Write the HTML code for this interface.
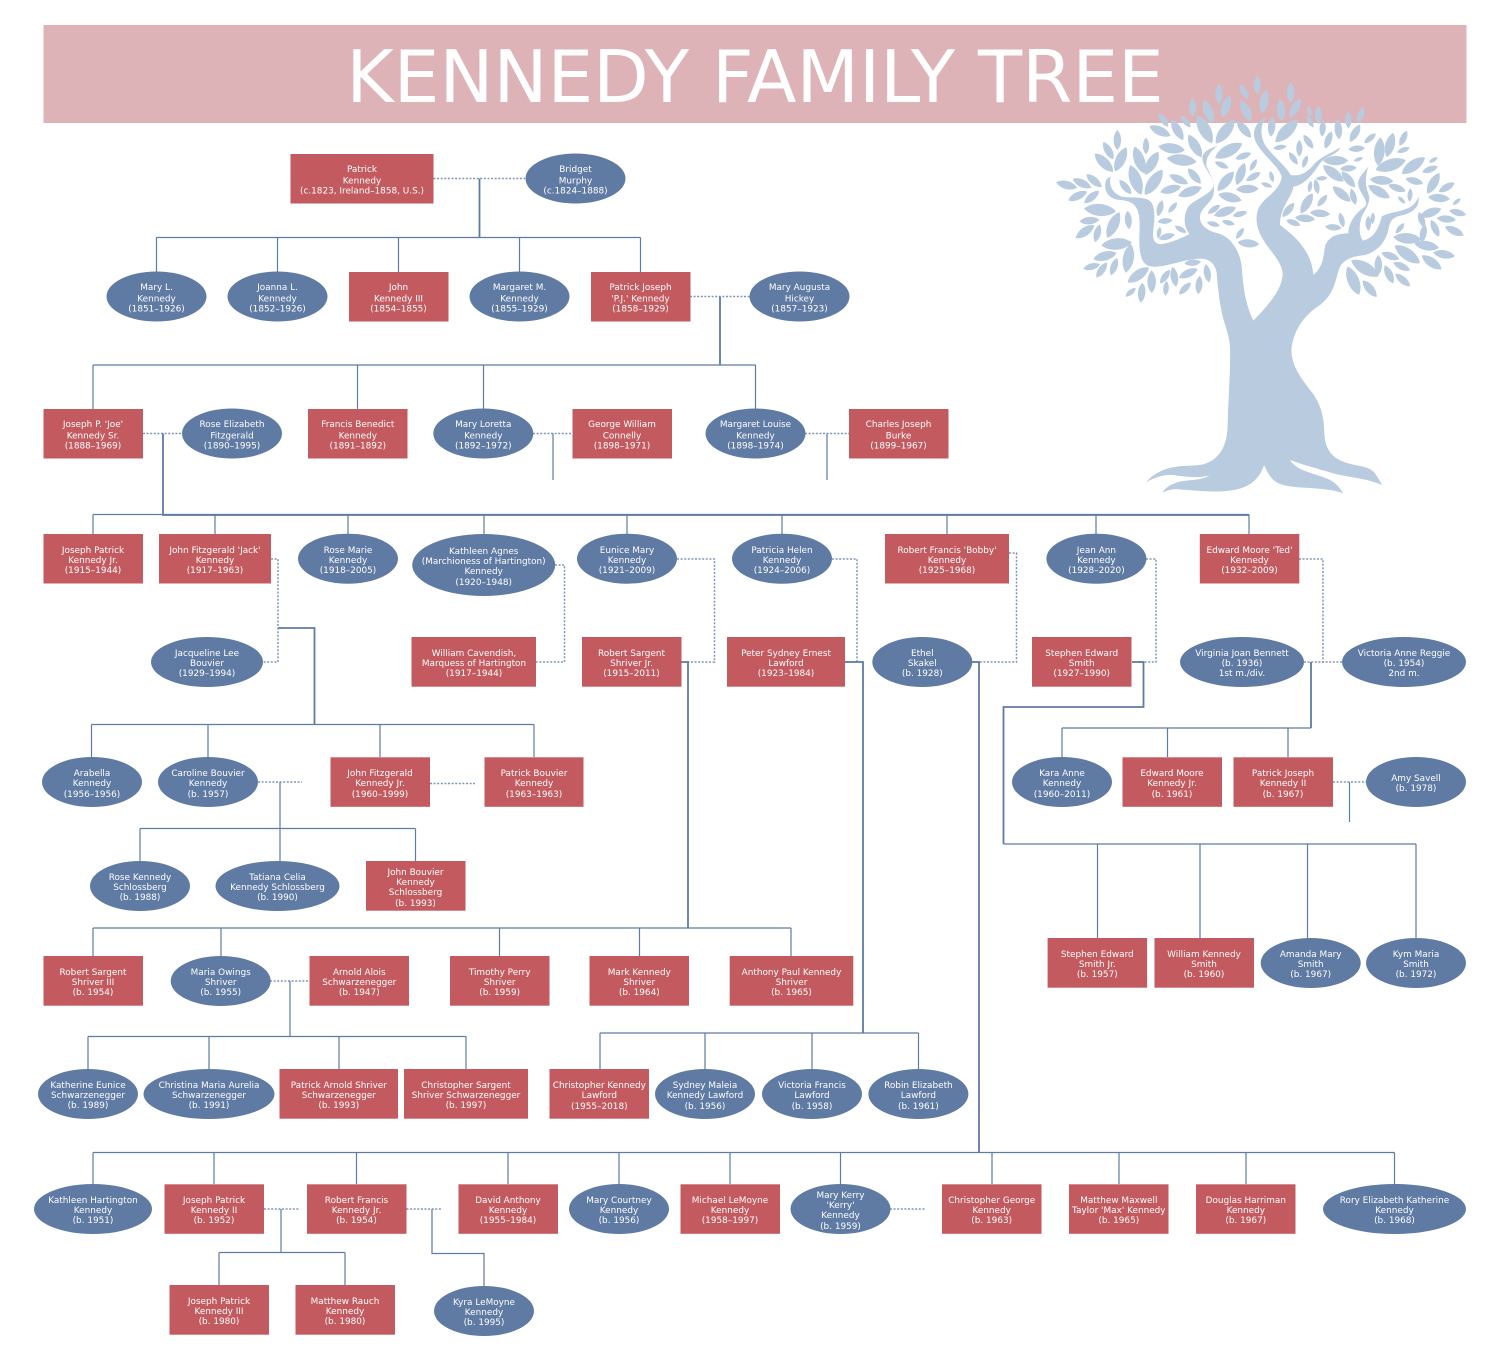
<!DOCTYPE html>
<html><head><meta charset="utf-8"><title>Kennedy Family Tree</title>
<style>
html,body{margin:0;padding:0;background:#fff}
svg{display:block}
text{font-family:"DejaVu Sans","Liberation Sans",sans-serif;font-size:8.9px;fill:#fff;text-anchor:middle}
.n rect{fill:#c25a60}
.n ellipse{fill:#5f7aa3}
.s{fill:none;stroke:#5f7aa3;stroke-width:1.2}
.b{fill:none;stroke:#5f7aa3;stroke-width:1.8}
.d{fill:none;stroke:#7f95b8;stroke-width:1.5;stroke-dasharray:2 1.6}
.t{fill:#b9cbdf}
</style></head><body>
<svg width="1500" height="1350" viewBox="0 0 1500 1350" xmlns="http://www.w3.org/2000/svg">
<rect x="0" y="0" width="1500" height="1350" fill="#fff"/>
<rect x="43.5" y="25" width="1423" height="98" fill="#deb3b8"/>
<text x="755" y="102" style="font-size:72.3px">KENNEDY FAMILY TREE</text>

<defs><path id="l" d="M0,-.5C.25,-.25 .25,.25 0,.5C-.25,.25 -.25,-.25 0,-.5Z"/></defs>
<g class="t" transform="translate(1040 70) scale(.33333)">
<path d="M318,1237C345,1205 385,1190 430,1188C465,1186 490,1188 515,1172C550,1150 563,1110 563,1060C565,980 572,900 570,830C568,790 550,760 542,710C535,670 533,640 530,610C528,585 510,565 478,566C430,568 380,592 340,590C305,590 298,555 298,510C298,490 300,470 298,445C295,410 280,392 240,390C205,388 190,360 197,335C199,327 205,323 212,320C206,345 215,368 245,380C275,385 315,378 332,395C345,410 345,440 340,480C336,510 345,525 368,522C395,517 425,505 448,492C432,470 428,440 445,410C460,390 510,375 520,350C525,325 490,295 487,265C487,245 510,235 532,228C510,245 495,265 500,290C510,315 528,335 520,375C510,405 478,415 480,445C482,470 510,485 535,490C570,500 600,540 605,590C610,650 615,700 640,752C680,710 728,660 728,610C725,570 680,535 662,495C645,460 645,425 665,400C685,375 720,360 725,320C715,285 660,250 645,210C635,180 650,155 680,140C660,165 660,195 675,225C695,255 735,285 752,315C775,320 800,310 820,285C840,260 875,250 900,232C895,255 860,255 840,280C820,310 795,345 760,350C755,385 720,410 720,465C760,495 815,540 820,615C850,590 850,560 855,530C865,495 900,490 925,490C925,460 945,430 975,410C990,390 950,365 955,335C960,315 975,305 985,290C975,320 975,345 985,370C995,395 975,420 965,440C958,465 955,490 968,512C1000,505 1015,480 1025,440C1055,420 1120,430 1135,380C1140,405 1125,425 1090,435C1060,440 1050,450 1045,480C1035,520 1010,545 975,555C945,558 915,565 900,590C885,630 885,670 840,705C800,730 765,770 755,830C750,880 780,920 810,960C845,1000 853,1050 853,1090C855,1130 870,1160 910,1175C945,1190 985,1185 1005,1210C1015,1225 1022,1235 1025,1245C985,1225 925,1222 880,1210C830,1195 790,1185 750,1170C770,1205 830,1210 870,1230C890,1240 900,1255 910,1270C860,1250 780,1258 730,1245C700,1238 685,1215 672,1185C660,1225 630,1250 590,1258C540,1270 470,1262 420,1258C400,1256 385,1260 367,1268C385,1240 420,1232 460,1230C480,1228 495,1224 508,1217C470,1225 430,1220 400,1215C370,1213 345,1222 318,1237Z"/>
<use href="#l" transform="translate(458 112)rotate(0)scale(55)"/><use href="#l" transform="translate(505 125)rotate(-20)scale(75)"/><use href="#l" transform="translate(558 110)rotate(20)scale(70)"/><use href="#l" transform="translate(537 72)scale(60)"/><use href="#l" transform="translate(612 65)rotate(-30)scale(50)"/><use href="#l" transform="translate(652 45)scale(55)"/><use href="#l" transform="translate(672 95)rotate(10)scale(70)"/><use href="#l" transform="translate(618 122)rotate(-25)scale(70)"/><use href="#l" transform="translate(723 120)rotate(-5)scale(65)"/><use href="#l" transform="translate(752 68)scale(60)"/><use href="#l" transform="translate(765 115)rotate(30)scale(65)"/><use href="#l" transform="translate(808 125)rotate(-10)scale(35)"/><use href="#l" transform="translate(835 135)scale(55)"/><use href="#l" transform="translate(925 150)scale(50)"/><use href="#l" transform="translate(962 135)rotate(20)scale(50)"/><use href="#l" transform="translate(370 150)rotate(-35)scale(50)"/><use href="#l" transform="translate(437 155)rotate(-40)scale(45)"/>
<use href="#l" transform="translate(494 178)rotate(-28)scale(95)"/><use href="#l" transform="translate(555 185)rotate(38)scale(90)"/><use href="#l" transform="translate(612 178)rotate(-40)scale(65)"/><use href="#l" transform="translate(695 170)rotate(5)scale(60)"/><use href="#l" transform="translate(740 183)rotate(45)scale(95)"/><use href="#l" transform="translate(805 215)rotate(-35)scale(50)"/><use href="#l" transform="translate(810 155)rotate(-30)scale(40)"/><use href="#l" transform="translate(848 175)rotate(5)scale(50)"/><use href="#l" transform="translate(865 210)rotate(20)scale(55)"/><use href="#l" transform="translate(895 178)rotate(-5)scale(60)"/><use href="#l" transform="translate(945 190)rotate(30)scale(60)"/><use href="#l" transform="translate(990 205)rotate(50)scale(45)"/><use href="#l" transform="translate(950 236)rotate(85)scale(50)"/><use href="#l" transform="translate(720 232)rotate(80)scale(40)"/><use href="#l" transform="translate(778 235)scale(50)"/><use href="#l" transform="translate(760 265)rotate(-35)scale(45)"/><use href="#l" transform="translate(795 275)rotate(20)scale(40)"/>
<use href="#l" transform="translate(360 183)rotate(-65)scale(70)"/><use href="#l" transform="translate(412 180)rotate(-30)scale(70)"/><use href="#l" transform="translate(465 228)rotate(-30)scale(78)"/><use href="#l" transform="translate(395 235)rotate(98)scale(80)"/><use href="#l" transform="translate(425 270)rotate(97)scale(90)"/>
<use href="#l" transform="translate(232 210)scale(60)"/><use href="#l" transform="translate(205 242)rotate(-30)scale(60)"/><use href="#l" transform="translate(192 278)rotate(-45)scale(78)"/><use href="#l" transform="translate(242 268)rotate(25)scale(80)"/><use href="#l" transform="translate(318 228)scale(50)"/><use href="#l" transform="translate(298 270)rotate(-20)scale(85)"/><use href="#l" transform="translate(335 280)rotate(30)scale(80)"/><use href="#l" transform="translate(287 330)rotate(-20)scale(95)"/><use href="#l" transform="translate(341 337)rotate(35)scale(92)"/><use href="#l" transform="translate(256 351)rotate(-40)scale(55)"/>
<use href="#l" transform="translate(80 345)rotate(-75)scale(65)"/><use href="#l" transform="translate(126 340)rotate(-65)scale(62)"/><use href="#l" transform="translate(162 332)rotate(-50)scale(60)"/><use href="#l" transform="translate(113 378)rotate(65)scale(62)"/><use href="#l" transform="translate(155 381)rotate(50)scale(58)"/>
<use href="#l" transform="translate(180 420)rotate(95)scale(96)"/><use href="#l" transform="translate(265 450)rotate(-5)scale(55)"/><use href="#l" transform="translate(148 452)rotate(85)scale(60)"/><use href="#l" transform="translate(220 465)rotate(25)scale(85)"/><use href="#l" transform="translate(135 485)rotate(55)scale(68)"/><use href="#l" transform="translate(172 490)rotate(15)scale(55)"/>
<use href="#l" transform="translate(230 522)rotate(85)scale(92)"/><use href="#l" transform="translate(195 558)rotate(75)scale(72)"/><use href="#l" transform="translate(155 590)rotate(75)scale(52)"/><use href="#l" transform="translate(185 600)rotate(35)scale(55)"/><use href="#l" transform="translate(222 590)rotate(20)scale(55)"/><use href="#l" transform="translate(265 565)rotate(10)scale(88)"/>
<use href="#l" transform="translate(295 615)rotate(55)scale(78)"/><use href="#l" transform="translate(272 667)rotate(50)scale(40)"/><use href="#l" transform="translate(305 668)rotate(5)scale(60)"/><use href="#l" transform="translate(335 635)scale(68)"/><use href="#l" transform="translate(375 620)rotate(35)scale(50)"/><use href="#l" transform="translate(378 655)rotate(5)scale(45)"/><use href="#l" transform="translate(403 620)rotate(-10)scale(60)"/><use href="#l" transform="translate(445 610)rotate(65)scale(62)"/><use href="#l" transform="translate(458 578)rotate(85)scale(50)"/><use href="#l" transform="translate(435 655)rotate(45)scale(50)"/><use href="#l" transform="translate(477 645)rotate(5)scale(55)"/><use href="#l" transform="translate(502 610)rotate(-10)scale(55)"/>
<use href="#l" transform="translate(360 415)rotate(15)scale(50)"/><use href="#l" transform="translate(398 413)rotate(40)scale(40)"/><use href="#l" transform="translate(375 453)rotate(85)scale(45)"/><use href="#l" transform="translate(357 488)rotate(10)scale(35)"/><use href="#l" transform="translate(380 500)rotate(75)scale(50)"/><use href="#l" transform="translate(422 478)rotate(-60)scale(40)"/>
<use href="#l" transform="translate(392 358)rotate(75)scale(65)"/><use href="#l" transform="translate(450 365)rotate(70)scale(75)"/><use href="#l" transform="translate(416 328)rotate(-65)scale(62)"/><use href="#l" transform="translate(463 318)rotate(-40)scale(60)"/>
<use href="#l" transform="translate(522 418)rotate(55)scale(45)"/><use href="#l" transform="translate(600 432)rotate(75)scale(45)"/><use href="#l" transform="translate(555 425)rotate(70)scale(70)"/><use href="#l" transform="translate(520 462)rotate(105)scale(40)"/><use href="#l" transform="translate(565 458)rotate(105)scale(40)"/><use href="#l" transform="translate(600 490)rotate(35)scale(40)"/><use href="#l" transform="translate(625 520)rotate(95)scale(65)"/>
<use href="#l" transform="translate(566 242)rotate(62)scale(92)"/><use href="#l" transform="translate(610 258)rotate(70)scale(50)"/><use href="#l" transform="translate(545 285)rotate(115)scale(45)"/><use href="#l" transform="translate(602 312)rotate(20)scale(70)"/><use href="#l" transform="translate(640 285)rotate(30)scale(40)"/><use href="#l" transform="translate(557 334)rotate(40)scale(76)"/><use href="#l" transform="translate(640 320)rotate(60)scale(50)"/><use href="#l" transform="translate(622 357)rotate(88)scale(68)"/><use href="#l" transform="translate(570 382)rotate(105)scale(72)"/><use href="#l" transform="translate(695 320)rotate(-15)scale(35)"/><use href="#l" transform="translate(680 345)rotate(-70)scale(35)"/>
<use href="#l" transform="translate(845 325)rotate(85)scale(35)"/><use href="#l" transform="translate(810 350)rotate(10)scale(35)"/><use href="#l" transform="translate(830 350)rotate(-10)scale(45)"/><use href="#l" transform="translate(847 392)rotate(40)scale(45)"/><use href="#l" transform="translate(800 400)rotate(30)scale(70)"/><use href="#l" transform="translate(745 420)rotate(40)scale(55)"/><use href="#l" transform="translate(840 430)rotate(95)scale(60)"/><use href="#l" transform="translate(795 445)rotate(95)scale(60)"/><use href="#l" transform="translate(760 458)rotate(110)scale(45)"/>
<use href="#l" transform="translate(905 372)rotate(-50)scale(70)"/><use href="#l" transform="translate(940 380)rotate(-15)scale(50)"/><use href="#l" transform="translate(905 450)rotate(-15)scale(45)"/><use href="#l" transform="translate(880 472)rotate(95)scale(50)"/>
<use href="#l" transform="translate(887 272)rotate(90)scale(75)"/><use href="#l" transform="translate(925 295)rotate(85)scale(50)"/><use href="#l" transform="translate(880 310)rotate(-52)scale(78)"/><use href="#l" transform="translate(925 328)rotate(-40)scale(62)"/><use href="#l" transform="translate(955 268)rotate(70)scale(30)"/>
<use href="#l" transform="translate(1018 245)rotate(5)scale(85)"/><use href="#l" transform="translate(1050 225)rotate(15)scale(75)"/><use href="#l" transform="translate(1090 205)rotate(25)scale(50)"/><use href="#l" transform="translate(1052 285)rotate(72)scale(95)"/><use href="#l" transform="translate(1090 240)rotate(70)scale(40)"/><use href="#l" transform="translate(1120 287)rotate(55)scale(85)"/><use href="#l" transform="translate(1170 298)rotate(70)scale(50)"/><use href="#l" transform="translate(1180 270)rotate(60)scale(30)"/>
<use href="#l" transform="translate(1025 331)rotate(95)scale(70)"/><use href="#l" transform="translate(1017 365)rotate(-60)scale(75)"/><use href="#l" transform="translate(1071 354)rotate(110)scale(55)"/><use href="#l" transform="translate(1123 333)rotate(105)scale(55)"/><use href="#l" transform="translate(1180 340)rotate(30)scale(72)"/><use href="#l" transform="translate(1220 352)rotate(60)scale(55)"/>
<use href="#l" transform="translate(1110 375)rotate(5)scale(40)"/><use href="#l" transform="translate(1085 390)rotate(-45)scale(30)"/><use href="#l" transform="translate(1197 384)rotate(95)scale(65)"/><use href="#l" transform="translate(1250 395)rotate(50)scale(30)"/><use href="#l" transform="translate(1253 428)rotate(105)scale(52)"/><use href="#l" transform="translate(1172 428)rotate(70)scale(68)"/><use href="#l" transform="translate(1219 447)rotate(95)scale(58)"/><use href="#l" transform="translate(1243 483)rotate(115)scale(62)"/>
<use href="#l" transform="translate(1145 450)rotate(-20)scale(50)"/><use href="#l" transform="translate(1185 475)rotate(-25)scale(55)"/><use href="#l" transform="translate(1150 490)rotate(10)scale(55)"/><use href="#l" transform="translate(1080 475)rotate(40)scale(40)"/><use href="#l" transform="translate(1102 505)rotate(95)scale(85)"/><use href="#l" transform="translate(1160 527)rotate(100)scale(75)"/>
<use href="#l" transform="translate(1102 553)rotate(125)scale(92)"/><use href="#l" transform="translate(1212 553)rotate(100)scale(66)"/><use href="#l" transform="translate(1175 577)rotate(125)scale(72)"/>
<use href="#l" transform="translate(1051 558)rotate(110)scale(57)"/><use href="#l" transform="translate(1015 585)scale(60)"/><use href="#l" transform="translate(1085 589)rotate(115)scale(55)"/><use href="#l" transform="translate(1047 613)rotate(-25)scale(60)"/><use href="#l" transform="translate(1088 630)rotate(-50)scale(58)"/>
<use href="#l" transform="translate(975 595)rotate(120)scale(95)"/><use href="#l" transform="translate(940 632)rotate(-22)scale(92)"/><use href="#l" transform="translate(989 656)rotate(-40)scale(65)"/>
<use href="#l" transform="translate(985 460)scale(45)"/><use href="#l" transform="translate(998 445)rotate(5)scale(35)"/>
</g>

<!-- connectors: dotted spouse links -->
<path class="d" d="M433.500 178.500H525M690 296.500H750M143 433.500H182M533 433.500H572M805 433.500H849M271 559H278V662H262.700M258 782H302M430 783.500H475M555 565H564.500V662H536M677 559H714.500V662H681M832 559H857V662H845M1009 553H1016.500V662H972M1146 559H1156V662H1132M1299 559H1323V662M1304 662H1342M1333 782H1366M270 981H309M264 1209H299M406.500 1209H442M890 1209H925"/>
<!-- connectors: thin solid -->
<path class="s" d="M156.500 237.500H640.500M156.500 237.500V272M277.500 237.500V272M398.500 237.500V272M519.500 237.500V272M640.500 237.500V272
M93 365H755.500M93 365V409M357.500 365V409M483.500 365V409M755.500 365V409
M553 433.500V480M827 433.500V480
M93 514.500H1249M93 514.500V534M215 514.500V534M348 514.500V534M484 514.500V534M627 514.500V534M782 514.500V534M947 514.500V534M1096 514.500V534M1249 514.500V534
M91.500 724.500H534M91.500 724.500V757M208 724.500V757M380 724.500V757M534 724.500V757
M280 782V828.500M140 828.500H415.500M140 828.500V861M280 828.500V861M415.500 828.500V861
M93 928H791M93 928V956M221 928V956M499.500 928V956M639.500 928V956M791 928V956
M290 981V1036.500M88 1036.500H466M88 1036.500V1069M209 1036.500V1069M339 1036.500V1069M466 1036.500V1069
M600 1033H918.500M600 1033V1069M705 1033V1069M812 1033V1069M918.500 1033V1069
M93 1152.500H1394.500M93 1152.500V1184M214 1152.500V1184M356.500 1152.500V1184M508 1152.500V1184M619 1152.500V1184M730 1152.500V1184M840.500 1152.500V1184M992 1152.500V1184M1119 1152.500V1184M1246 1152.500V1184M1394.500 1152.500V1184
M1003.500 844H1416M1097.500 844V938M1200 844V938M1307.500 844V938M1416 844V938
M1062 728H1311M1062 728V757M1167.500 728V757M1288 728V757
M1349.500 782V822
M281 1209V1252.500M219 1252.500H345M219 1252.500V1285M345 1252.500V1285
M432 1209V1253.500H484V1286"/>
<!-- connectors: thicker solid -->
<path class="b" d="M479.500 178.500V238M720 296.500V365M163 433.500V515H1249M278 628H314.500V725M681 662H688V928M845 662H863V1033M972 662H979V1152M1132 662H1143.500V707H1003.500V844M1311 662V728"/>

<g class="n">
<rect x="290.500" y="154" width="143" height="49.500"/><text x="362" y="172">Patrick</text><text x="362" y="183.500">Kennedy</text><text x="362" y="193.500">(c.1823, Ireland–1858, U.S.)</text>
<ellipse cx="575.500" cy="178.500" rx="50" ry="25"/><text x="575.500" y="172">Bridget</text><text x="575.500" y="183.500">Murphy</text><text x="575.500" y="193.500">(c.1824–1888)</text>

<ellipse cx="156.500" cy="296.500" rx="50" ry="25"/><text x="156.500" y="290">Mary L.</text><text x="156.500" y="301.300">Kennedy</text><text x="156.500" y="311.300">(1851–1926)</text>
<ellipse cx="277.500" cy="296.500" rx="50" ry="25"/><text x="277.500" y="290">Joanna L.</text><text x="277.500" y="301.300">Kennedy</text><text x="277.500" y="311.300">(1852–1926)</text>
<rect x="349" y="272" width="99.500" height="49.500"/><text x="398.500" y="290">John</text><text x="398.500" y="301.300">Kennedy III</text><text x="398.500" y="311.300">(1854–1855)</text>
<ellipse cx="519.500" cy="296.500" rx="50" ry="25"/><text x="519.500" y="290">Margaret M.</text><text x="519.500" y="301.300">Kennedy</text><text x="519.500" y="311.300">(1855–1929)</text>
<rect x="591" y="272" width="99.500" height="49.500"/><text x="640.500" y="290">Patrick Joseph</text><text x="640.500" y="301.300">'P.J.' Kennedy</text><text x="640.500" y="311.300">(1858–1929)</text>
<ellipse cx="799.500" cy="296.500" rx="50" ry="25"/><text x="799.500" y="290">Mary Augusta</text><text x="799.500" y="301.300">Hickey</text><text x="799.500" y="311.300">(1857–1923)</text>

<rect x="43.500" y="409" width="99.500" height="49.500"/><text x="93" y="427">Joseph P. 'Joe'</text><text x="93" y="438.300">Kennedy Sr.</text><text x="93" y="448.300">(1888–1969)</text>
<ellipse cx="232" cy="433.500" rx="50" ry="25"/><text x="232" y="427">Rose Elizabeth</text><text x="232" y="438.300">Fitzgerald</text><text x="232" y="448.300">(1890–1995)</text>
<rect x="308" y="409" width="99.500" height="49.500"/><text x="357.800" y="427">Francis Benedict</text><text x="357.800" y="438.300">Kennedy</text><text x="357.800" y="448.300">(1891–1892)</text>
<ellipse cx="483.300" cy="433.500" rx="50" ry="25"/><text x="483.300" y="427">Mary Loretta</text><text x="483.300" y="438.300">Kennedy</text><text x="483.300" y="448.300">(1892–1972)</text>
<rect x="572.500" y="409" width="99.500" height="49.500"/><text x="622" y="427">George William</text><text x="622" y="438.300">Connelly</text><text x="622" y="448.300">(1898–1971)</text>
<ellipse cx="755.500" cy="433.500" rx="50" ry="25"/><text x="755.500" y="427">Margaret Louise</text><text x="755.500" y="438.300">Kennedy</text><text x="755.500" y="448.300">(1898–1974)</text>
<rect x="849" y="409" width="99.500" height="49.500"/><text x="898.500" y="427">Charles Joseph</text><text x="898.500" y="438.300">Burke</text><text x="898.500" y="448.300">(1899–1967)</text>

<rect x="43.500" y="534" width="99.500" height="49.500"/><text x="93" y="553">Joseph Patrick</text><text x="93" y="563">Kennedy Jr.</text><text x="93" y="573">(1915–1944)</text>
<rect x="159" y="534" width="112" height="49.500"/><text x="215" y="553">John Fitzgerald 'Jack'</text><text x="215" y="563">Kennedy</text><text x="215" y="573">(1917–1963)</text>
<ellipse cx="348" cy="558.700" rx="50" ry="25"/><text x="348" y="553">Rose Marie</text><text x="348" y="563">Kennedy</text><text x="348" y="573">(1918–2005)</text>
<ellipse cx="483.700" cy="565" rx="71.500" ry="31"/><text x="483.700" y="554">Kathleen Agnes</text><text x="483.700" y="564">(Marchioness of Hartington)</text><text x="483.700" y="574">Kennedy</text><text x="483.700" y="585">(1920–1948)</text>
<ellipse cx="627" cy="558.700" rx="50" ry="25"/><text x="627" y="553">Eunice Mary</text><text x="627" y="563">Kennedy</text><text x="627" y="573">(1921–2009)</text>
<ellipse cx="782" cy="558.700" rx="50" ry="25"/><text x="782" y="553">Patricia Helen</text><text x="782" y="563">Kennedy</text><text x="782" y="573">(1924–2006)</text>
<rect x="885" y="534" width="124" height="49.500"/><text x="947" y="553">Robert Francis 'Bobby'</text><text x="947" y="563">Kennedy</text><text x="947" y="573">(1925–1968)</text>
<ellipse cx="1096.400" cy="558.700" rx="50" ry="25"/><text x="1096.400" y="553">Jean Ann</text><text x="1096.400" y="563">Kennedy</text><text x="1096.400" y="573">(1928–2020)</text>
<rect x="1199.800" y="534" width="99.500" height="49.500"/><text x="1249.500" y="553">Edward Moore 'Ted'</text><text x="1249.500" y="563">Kennedy</text><text x="1249.500" y="573">(1932–2009)</text>

<ellipse cx="207" cy="662" rx="56" ry="25"/><text x="207" y="656">Jacqueline Lee</text><text x="207" y="666">Bouvier</text><text x="207" y="676">(1929–1994)</text>
<rect x="411.500" y="637" width="124.500" height="49.700"/><text x="474" y="656">William Cavendish,</text><text x="474" y="666">Marquess of Hartington</text><text x="474" y="676">(1917–1944)</text>
<rect x="582" y="637" width="99.500" height="49.700"/><text x="631.500" y="656">Robert Sargent</text><text x="631.500" y="666">Shriver Jr.</text><text x="631.500" y="676">(1915–2011)</text>
<rect x="727" y="637" width="118" height="49.700"/><text x="786" y="656">Peter Sydney Ernest</text><text x="786" y="666">Lawford</text><text x="786" y="676">(1923–1984)</text>
<ellipse cx="922.300" cy="662" rx="50" ry="25"/><text x="922.300" y="656">Ethel</text><text x="922.300" y="666">Skakel</text><text x="922.300" y="676">(b. 1928)</text>
<rect x="1032" y="637" width="99.500" height="49.700"/><text x="1081.700" y="656">Stephen Edward</text><text x="1081.700" y="666">Smith</text><text x="1081.700" y="676">(1927–1990)</text>
<ellipse cx="1242" cy="662" rx="62" ry="25"/><text x="1242" y="656">Virginia Joan Bennett</text><text x="1242" y="666">(b. 1936)</text><text x="1242" y="676">1st m./div.</text>
<ellipse cx="1404" cy="662" rx="62" ry="25"/><text x="1404" y="656">Victoria Anne Reggie</text><text x="1404" y="666">(b. 1954)</text><text x="1404" y="676">2nd m.</text>

<ellipse cx="92" cy="782" rx="50" ry="25"/><text x="92" y="776">Arabella</text><text x="92" y="786">Kennedy</text><text x="92" y="797">(1956–1956)</text>
<ellipse cx="208" cy="782" rx="50" ry="25"/><text x="208" y="776">Caroline Bouvier</text><text x="208" y="786">Kennedy</text><text x="208" y="797">(b. 1957)</text>
<rect x="330.500" y="757.300" width="99.500" height="49.500"/><text x="380" y="776">John Fitzgerald</text><text x="380" y="786">Kennedy Jr.</text><text x="380" y="797">(1960–1999)</text>
<rect x="484.500" y="757.300" width="99" height="49.500"/><text x="534" y="776">Patrick Bouvier</text><text x="534" y="786">Kennedy</text><text x="534" y="797">(1963–1963)</text>
<ellipse cx="1062" cy="782" rx="50" ry="25"/><text x="1062" y="776">Kara Anne</text><text x="1062" y="786">Kennedy</text><text x="1062" y="797">(1960–2011)</text>
<rect x="1122.500" y="757.300" width="99.500" height="49.500"/><text x="1172" y="776">Edward Moore</text><text x="1172" y="786">Kennedy Jr.</text><text x="1172" y="797">(b. 1961)</text>
<rect x="1233.500" y="757.300" width="99.500" height="49.500"/><text x="1283" y="776">Patrick Joseph</text><text x="1283" y="786">Kennedy II</text><text x="1283" y="797">(b. 1967)</text>
<ellipse cx="1416" cy="782" rx="50" ry="25"/><text x="1416" y="781">Amy Savell</text><text x="1416" y="791">(b. 1978)</text>

<ellipse cx="140" cy="886" rx="50" ry="25"/><text x="140" y="880">Rose Kennedy</text><text x="140" y="890">Schlossberg</text><text x="140" y="900">(b. 1988)</text>
<ellipse cx="277.500" cy="886" rx="62" ry="25"/><text x="277.500" y="880">Tatiana Celia</text><text x="277.500" y="890">Kennedy Schlossberg</text><text x="277.500" y="900">(b. 1990)</text>
<rect x="366" y="861" width="99.500" height="49.700"/><text x="415.500" y="875">John Bouvier</text><text x="415.500" y="885">Kennedy</text><text x="415.500" y="895">Schlossberg</text><text x="415.500" y="906">(b. 1993)</text>

<rect x="1047.600" y="938" width="99.500" height="49.700"/><text x="1097.300" y="957">Stephen Edward</text><text x="1097.300" y="967">Smith Jr.</text><text x="1097.300" y="977">(b. 1957)</text>
<rect x="1154.500" y="938" width="99.500" height="49.700"/><text x="1204" y="957">William Kennedy</text><text x="1204" y="967">Smith</text><text x="1204" y="977">(b. 1960)</text>
<ellipse cx="1310.700" cy="963" rx="50" ry="25"/><text x="1310.700" y="957">Amanda Mary</text><text x="1310.700" y="967">Smith</text><text x="1310.700" y="977">(b. 1967)</text>
<ellipse cx="1416" cy="963" rx="50" ry="25"/><text x="1416" y="957">Kym Maria</text><text x="1416" y="967">Smith</text><text x="1416" y="977">(b. 1972)</text>

<rect x="43.500" y="956" width="99.500" height="49.700"/><text x="93" y="975">Robert Sargent</text><text x="93" y="985">Shriver III</text><text x="93" y="995">(b. 1954)</text>
<ellipse cx="220.700" cy="981" rx="50" ry="25"/><text x="220.700" y="975">Maria Owings</text><text x="220.700" y="985">Shriver</text><text x="220.700" y="995">(b. 1955)</text>
<rect x="309.500" y="956" width="99.500" height="49.700"/><text x="359.300" y="975">Arnold Alois</text><text x="359.300" y="985">Schwarzenegger</text><text x="359.300" y="995">(b. 1947)</text>
<rect x="450" y="956" width="99.500" height="49.700"/><text x="499.700" y="975">Timothy Perry</text><text x="499.700" y="985">Shriver</text><text x="499.700" y="995">(b. 1959)</text>
<rect x="589.500" y="956" width="99.500" height="49.700"/><text x="639.300" y="975">Mark Kennedy</text><text x="639.300" y="985">Shriver</text><text x="639.300" y="995">(b. 1964)</text>
<rect x="729.700" y="956" width="123.600" height="49.700"/><text x="791.500" y="975">Anthony Paul Kennedy</text><text x="791.500" y="985">Shriver</text><text x="791.500" y="995">(b. 1965)</text>

<ellipse cx="88" cy="1094" rx="50" ry="25"/><text x="88" y="1088">Katherine Eunice</text><text x="88" y="1098">Schwarzenegger</text><text x="88" y="1108">(b. 1989)</text>
<ellipse cx="209" cy="1094" rx="65.500" ry="25"/><text x="209" y="1088">Christina Maria Aurelia</text><text x="209" y="1098">Schwarzenegger</text><text x="209" y="1108">(b. 1991)</text>
<rect x="279.500" y="1069" width="118.500" height="49.700"/><text x="338.800" y="1088">Patrick Arnold Shriver</text><text x="338.800" y="1098">Schwarzenegger</text><text x="338.800" y="1108">(b. 1993)</text>
<rect x="404" y="1069" width="124" height="49.700"/><text x="466" y="1088">Christopher Sargent</text><text x="466" y="1098">Shriver Schwarzenegger</text><text x="466" y="1108">(b. 1997)</text>
<rect x="549.500" y="1069" width="99.500" height="49.700"/><text x="599.300" y="1088">Christopher Kennedy</text><text x="599.300" y="1098">Lawford</text><text x="599.300" y="1109">(1955–2018)</text>
<ellipse cx="705" cy="1094" rx="50" ry="25"/><text x="705" y="1088">Sydney Maleia</text><text x="705" y="1098">Kennedy Lawford</text><text x="705" y="1109">(b. 1956)</text>
<ellipse cx="812" cy="1094" rx="50" ry="25"/><text x="812" y="1088">Victoria Francis</text><text x="812" y="1098">Lawford</text><text x="812" y="1109">(b. 1958)</text>
<ellipse cx="918.400" cy="1094" rx="50" ry="25"/><text x="918.400" y="1088">Robin Elizabeth</text><text x="918.400" y="1098">Lawford</text><text x="918.400" y="1109">(b. 1961)</text>

<ellipse cx="93" cy="1209" rx="59" ry="25"/><text x="93" y="1203">Kathleen Hartington</text><text x="93" y="1213">Kennedy</text><text x="93" y="1223">(b. 1951)</text>
<rect x="164.500" y="1184.300" width="99.500" height="49.500"/><text x="214" y="1203">Joseph Patrick</text><text x="214" y="1213">Kennedy II</text><text x="214" y="1223">(b. 1952)</text>
<rect x="307" y="1184.300" width="99.500" height="49.500"/><text x="356.500" y="1203">Robert Francis</text><text x="356.500" y="1213">Kennedy Jr.</text><text x="356.500" y="1223">(b. 1954)</text>
<rect x="458.500" y="1184.300" width="99.500" height="49.500"/><text x="508" y="1203">David Anthony</text><text x="508" y="1213">Kennedy</text><text x="508" y="1223">(1955–1984)</text>
<ellipse cx="619" cy="1209" rx="50" ry="25"/><text x="619" y="1203">Mary Courtney</text><text x="619" y="1213">Kennedy</text><text x="619" y="1223">(b. 1956)</text>
<rect x="680.500" y="1184.300" width="99.500" height="49.500"/><text x="730" y="1203">Michael LeMoyne</text><text x="730" y="1213">Kennedy</text><text x="730" y="1223">(1958–1997)</text>
<ellipse cx="840.500" cy="1209" rx="50" ry="25"/><text x="840.500" y="1198">Mary Kerry</text><text x="840.500" y="1208">'Kerry'</text><text x="840.500" y="1218">Kennedy</text><text x="840.500" y="1229">(b. 1959)</text>
<rect x="942" y="1184.300" width="99.500" height="49.500"/><text x="991.700" y="1203">Christopher George</text><text x="991.700" y="1213">Kennedy</text><text x="991.700" y="1223">(b. 1963)</text>
<rect x="1069" y="1184.300" width="99.500" height="49.500"/><text x="1118.800" y="1203">Matthew Maxwell</text><text x="1118.800" y="1213">Taylor 'Max' Kennedy</text><text x="1118.800" y="1223">(b. 1965)</text>
<rect x="1196" y="1184.300" width="99.500" height="49.500"/><text x="1245.800" y="1203">Douglas Harriman</text><text x="1245.800" y="1213">Kennedy</text><text x="1245.800" y="1223">(b. 1967)</text>
<ellipse cx="1394.500" cy="1209" rx="71.500" ry="25"/><text x="1394.500" y="1203">Rory Elizabeth Katherine</text><text x="1394.500" y="1213">Kennedy</text><text x="1394.500" y="1223">(b. 1968)</text>

<rect x="169.500" y="1285" width="99.500" height="49.700"/><text x="219" y="1304">Joseph Patrick</text><text x="219" y="1314">Kennedy III</text><text x="219" y="1324">(b. 1980)</text>
<rect x="295.500" y="1285" width="99.500" height="49.700"/><text x="345" y="1304">Matthew Rauch</text><text x="345" y="1314">Kennedy</text><text x="345" y="1324">(b. 1980)</text>
<ellipse cx="484" cy="1311" rx="50" ry="25"/><text x="484" y="1305">Kyra LeMoyne</text><text x="484" y="1315">Kennedy</text><text x="484" y="1325">(b. 1995)</text>
</g>
</svg>
</body></html>
